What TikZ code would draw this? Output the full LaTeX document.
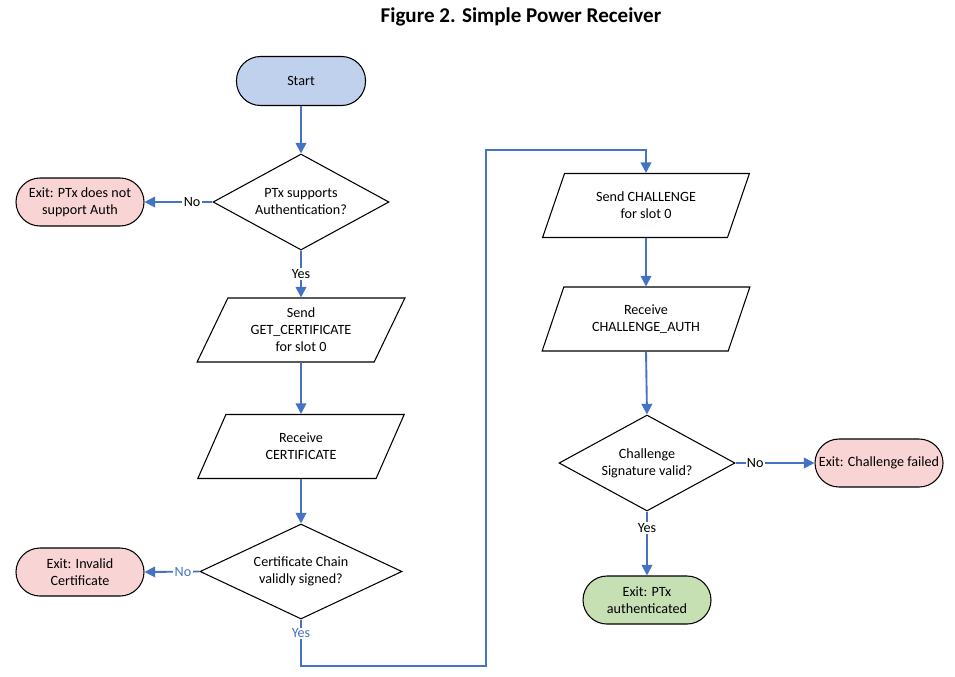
\documentclass[tikz,border=0pt]{standalone}
\usepackage{fontspec}
\setmainfont{Carlito}
\usetikzlibrary{shapes.geometric,arrows.meta}
\definecolor{arrowblue}{HTML}{4472C4}
\definecolor{startfill}{HTML}{BFD1EC}
\definecolor{exitfill}{HTML}{F9D4D4}
\definecolor{okfill}{HTML}{C6E0B4}
\tikzset{
  basefont/.style={font=\fontsize{10.6}{12.75}\selectfont},
  term/.style={basefont, draw=black, line width=0.8pt, rounded corners=18pt,
    minimum width=96pt, minimum height=36pt, align=center, inner sep=1pt},
  decision/.style={basefont, diamond, draw=black, line width=0.8pt, align=center,
    inner sep=0pt, shape aspect=2.1, minimum width=132pt, minimum height=72pt},
  io/.style={basefont, trapezium, trapezium left angle=65, trapezium right angle=115,
    trapezium stretches=true, draw=black, line width=0.8pt, align=center,
    minimum width=156pt, minimum height=48pt, inner sep=1pt},
  flow/.style={draw=arrowblue, line width=1.4pt, -{Triangle[length=8pt,width=8pt]}},
  lbl/.style={basefont, fill=white, inner sep=1pt, text=black},
  lblblue/.style={lbl, text=arrowblue},
}
\begin{document}
\begin{tikzpicture}[x=0.75pt,y=-0.75pt]
\useasboundingbox (0,0) rectangle (955,676);
\node[font=\bfseries\fontsize{15.8}{19}\selectfont] (title) at (521,17) {Figure 2. Simple Power Receiver};

\node[term, fill=startfill, minimum width=96.75pt, minimum height=36.75pt] (start) at (301,81) {Start};
\node[decision] (d1) at (301,202) {PTx supports\\Authentication?};
\node[term, fill=exitfill] (e1) at (80,202) {Exit: PTx does not\\support Auth};
\node[io] (p1) at (301,330) {Send\\GET\_CERTIFICATE\\for slot 0};
\node[io] (p2) at (301,446.5) {Receive\\CERTIFICATE};
\node[decision, minimum width=151.5pt, minimum height=71.25pt] (d2) at (301,571.5) {Certificate Chain\\validly signed?};
\node[term, fill=exitfill] (e2) at (80,572) {Exit: Invalid\\Certificate};

\node[io] (p3) at (646,205.5) {Send CHALLENGE\\for slot 0};
\node[io] (p4) at (646,319) {Receive\\CHALLENGE\_AUTH};
\node[decision] (d3) at (647,463) {Challenge\\Signature valid?};
\node[term, fill=exitfill] (e3) at (879,463) {Exit: Challenge failed};
\node[term, fill=okfill] (e4) at (647,600) {Exit: PTx\\authenticated};

\coordinate (c1) at (301,666);
\coordinate (c2) at (486,150);

\draw[flow] (start) -- (d1);
\draw[flow] (d1.west) -- node[lbl, pos=0.3] {No} (e1.east);
\draw[flow] (d1.south) -- node[lbl, pos=0.5] {Yes} (p1.north);
\draw[flow] (p1.south) -- (p2.north);
\draw[flow] (p2.south) -- (d2.north);
\draw[flow] (d2.west) -- node[lblblue, pos=0.3] {No} (e2.east);
\draw[flow] (d2.south) -- node[lblblue, pos=0.3] {Yes} (c1) -| (c2) -| (p3.north);
\draw[flow] (p3.south) -- (p4.north);
\draw[flow] (p4.south) -- (d3.north);
\draw[flow] (d3.east) -- node[lbl, pos=0.25] {No} (e3.west);
\draw[flow] (d3.south) -- node[lbl, pos=0.26] {Yes} (e4.north);
\end{tikzpicture}
\end{document}
